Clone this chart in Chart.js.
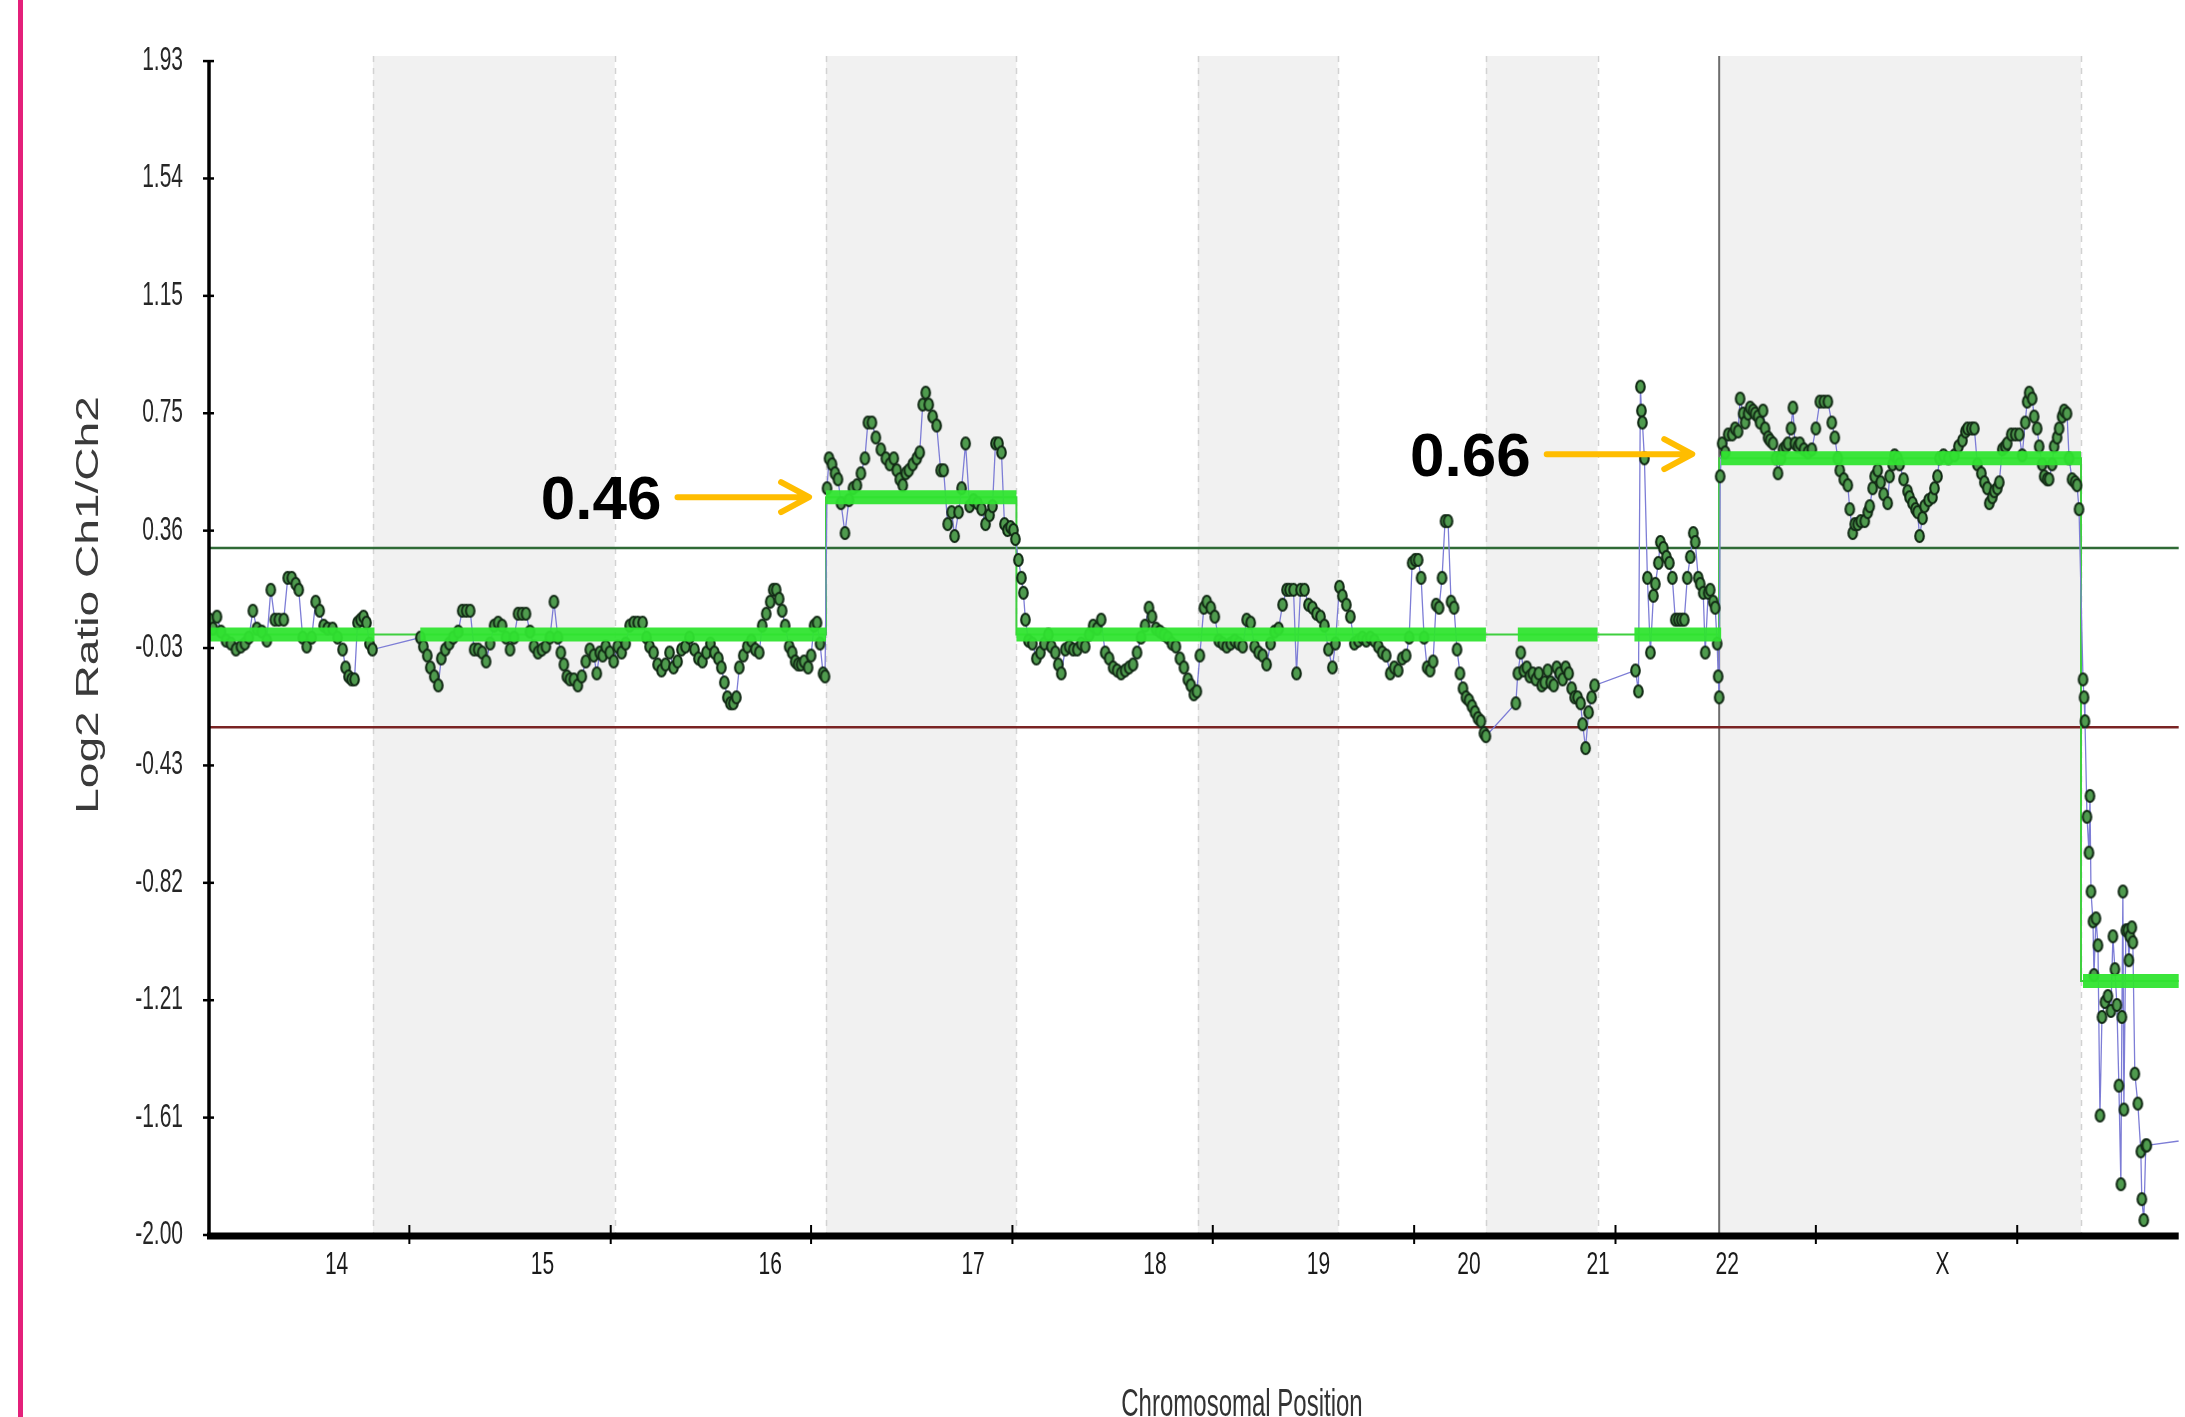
<!DOCTYPE html>
<html>
<head>
<meta charset="utf-8">
<script src="https://cdn.jsdelivr.net/npm/chart.js@4.4.1/dist/chart.umd.min.js"></script>
<style>
    html, body { margin: 0; padding: 0; background: #fff; }
    #wrap { width: 2185px; height: 1417px; position: relative; }
</style>
</head>
<body>
<div id="wrap"><canvas id="cgh"></canvas></div>
<script>

// probe log2 ratios, [position, log2 ratio], position in plot units from the left axis
const chr14 = [[1,0.06],[4,0.03],[8,0.07],[12,0.02],[17,-0.01],[22,-0.02],[27,-0.04],[32,-0.03],[36,-0.02],[40,0.0],[44,0.09],[48,0.03],[53,0.02],[58,-0.01],[62,0.16],[66,0.06],[70,0.06],[75,0.06],[79,0.2],[83,0.2],[87,0.18],[90,0.16],[94,0.0],[98,-0.03],[103,0.0],[107,0.12],[111,0.09],[115,0.04],[119,0.03],[124,0.03],[129,0.0],[134,-0.04],[137,-0.1],[140,-0.13],[143,-0.14],[146,-0.14],[149,0.05],[152,0.06],[155,0.07],[158,0.05],[161,-0.02],[164,-0.04]]
const chr15 = [[212,0.0],[215,-0.03],[219,-0.06],[222,-0.1],[226,-0.13],[230,-0.16],[233,-0.07],[237,-0.04],[241,-0.02],[245,0.0],[250,0.02],[254,0.09],[258,0.09],[262,0.09],[266,-0.04],[270,-0.04],[274,-0.05],[278,-0.08],[282,-0.02],[286,0.04],[290,0.05],[294,0.04],[298,0.0],[302,-0.04],[306,0.0],[310,0.08],[314,0.08],[318,0.08],[322,0.02],[326,-0.03],[330,-0.05],[334,-0.04],[338,-0.03],[342,0.0],[346,0.12],[350,0.0],[353,-0.05],[356,-0.09],[359,-0.13],[362,-0.14],[366,-0.14],[370,-0.16],[374,-0.13],[378,-0.08],[382,-0.04],[386,-0.06],[389,-0.12],[392,-0.05],[395,-0.06],[398,-0.03],[402,-0.05],[406,-0.08]]
const chr16 = [[410,-0.03],[414,-0.05],[418,-0.02],[422,0.04],[426,0.05],[430,0.05],[435,0.05],[439,0.0],[442,-0.03],[446,-0.05],[450,-0.09],[454,-0.11],[458,-0.09],[462,-0.05],[466,-0.1],[470,-0.08],[474,-0.04],[478,-0.03],[482,0.0],[487,-0.04],[491,-0.07],[495,-0.08],[499,-0.05],[503,-0.02],[507,-0.05],[511,-0.07],[514,-0.1],[517,-0.15],[520,-0.2],[523,-0.22],[526,-0.22],[529,-0.2],[532,-0.1],[536,-0.06],[540,-0.03],[544,-0.01],[548,-0.04],[552,-0.05],[555,0.04],[559,0.08],[563,0.12],[566,0.16],[569,0.16],[572,0.13],[575,0.09],[578,0.04],[582,-0.03],[585,-0.05],[588,-0.08],[591,-0.09],[594,-0.09],[597,-0.08],[601,-0.1],[604,-0.06],[607,0.04],[610,0.05],[613,-0.02],[616,-0.12],[618,-0.13]]
const chr17 = [[620,0.5],[622,0.6],[625,0.58],[628,0.55],[631,0.53],[634,0.45],[638,0.35],[642,0.46],[646,0.5],[650,0.51],[654,0.55],[658,0.6],[661,0.72],[665,0.72],[669,0.67],[674,0.63],[679,0.6],[683,0.58],[687,0.6],[690,0.56],[693,0.53],[696,0.51],[699,0.55],[702,0.56],[706,0.58],[710,0.6],[713,0.62],[716,0.78],[719,0.82],[722,0.78],[726,0.74],[730,0.71],[734,0.56],[737,0.56],[741,0.38],[745,0.42],[748,0.34],[752,0.42],[755,0.5],[759,0.65],[763,0.44],[767,0.46],[771,0.45],[775,0.43],[779,0.38],[783,0.41],[786,0.44],[789,0.65],[792,0.65],[795,0.62],[798,0.38],[801,0.36],[804,0.37],[807,0.36],[809,0.33]]
const chr18 = [[812,0.26],[815,0.2],[817,0.15],[819,0.06],[822,-0.01],[826,-0.02],[830,-0.07],[834,-0.05],[838,-0.02],[842,0.01],[845,-0.03],[849,-0.05],[852,-0.09],[855,-0.12],[859,-0.04],[863,-0.03],[867,-0.04],[871,-0.04],[875,-0.02],[879,-0.03],[883,0.01],[887,0.04],[891,0.03],[895,0.06],[899,-0.05],[903,-0.07],[907,-0.1],[911,-0.11],[915,-0.12],[919,-0.11],[923,-0.1],[927,-0.09],[931,-0.05],[935,0.0],[939,0.04],[943,0.1],[946,0.07],[950,0.03],[954,0.02],[958,0.01],[962,0.0],[966,-0.02],[970,-0.03],[974,-0.07],[978,-0.1],[982,-0.14],[985,-0.16],[988,-0.19],[991,-0.18]]
const chr19 = [[994,-0.06],[998,0.1],[1001,0.12],[1005,0.1],[1009,0.07],[1013,-0.01],[1017,-0.02],[1021,-0.03],[1025,-0.02],[1029,-0.01],[1033,-0.02],[1037,-0.03],[1041,0.06],[1045,0.05],[1049,-0.03],[1053,-0.05],[1057,-0.06],[1061,-0.09],[1065,-0.02],[1069,0.02],[1073,0.03],[1077,0.11],[1081,0.16],[1084,0.16],[1088,0.16],[1091,-0.12],[1095,0.16],[1099,0.16],[1103,0.11],[1107,0.1],[1111,0.08],[1115,0.07],[1119,0.04],[1123,-0.04],[1127,-0.1],[1130,-0.02]]
const chr20 = [[1134,0.17],[1137,0.14],[1141,0.11],[1145,0.07],[1149,-0.02],[1153,-0.01],[1157,0.0],[1161,-0.01],[1165,0.0],[1169,-0.01],[1173,-0.03],[1177,-0.05],[1181,-0.06],[1185,-0.12],[1189,-0.1],[1193,-0.11],[1197,-0.07],[1201,-0.06],[1204,0.0],[1207,0.25],[1210,0.26],[1213,0.26],[1216,0.2],[1219,0.0],[1222,-0.1],[1225,-0.11],[1228,-0.08],[1231,0.11],[1234,0.1],[1237,0.2],[1240,0.39],[1243,0.39],[1246,0.12],[1249,0.1],[1252,-0.04],[1255,-0.12],[1258,-0.17],[1261,-0.2],[1264,-0.21],[1267,-0.23],[1270,-0.25],[1273,-0.27],[1276,-0.28],[1279,-0.32],[1281,-0.33]]
const chr21 = [[1311,-0.22],[1313,-0.12],[1316,-0.05],[1319,-0.11],[1322,-0.1],[1325,-0.13],[1328,-0.12],[1331,-0.14],[1334,-0.12],[1337,-0.16],[1340,-0.15],[1343,-0.11],[1346,-0.15],[1349,-0.16],[1352,-0.1],[1355,-0.12],[1358,-0.14],[1361,-0.1],[1364,-0.12],[1367,-0.17],[1370,-0.2],[1373,-0.2],[1376,-0.22],[1378,-0.29],[1381,-0.37],[1384,-0.25],[1387,-0.2],[1390,-0.16]]
const chr22 = [[1431,-0.11],[1434,-0.18],[1436,0.84],[1437,0.76],[1438,0.72],[1440,0.6],[1443,0.2],[1446,-0.05],[1449,0.14],[1451,0.18],[1454,0.25],[1456,0.32],[1459,0.3],[1462,0.27],[1465,0.25],[1468,0.2],[1471,0.06],[1474,0.06],[1477,0.06],[1480,0.06],[1483,0.2],[1486,0.27],[1489,0.35],[1491,0.32],[1494,0.2],[1496,0.18],[1499,0.15],[1501,-0.05],[1504,0.15],[1506,0.16],[1509,0.12],[1511,0.1],[1513,-0.02],[1514,-0.13],[1515,-0.2]]
const chrX = [[1516,0.54],[1518,0.65],[1521,0.62],[1524,0.68],[1528,0.68],[1531,0.7],[1534,0.69],[1536,0.8],[1539,0.75],[1541,0.72],[1544,0.75],[1546,0.77],[1549,0.76],[1551,0.75],[1554,0.74],[1556,0.72],[1559,0.76],[1561,0.7],[1564,0.67],[1566,0.66],[1569,0.65],[1572,0.6],[1574,0.55],[1577,0.6],[1579,0.63],[1582,0.64],[1584,0.65],[1587,0.7],[1589,0.77],[1591,0.65],[1594,0.64],[1596,0.65],[1600,0.63],[1604,0.62],[1608,0.63],[1612,0.7],[1616,0.79],[1620,0.79],[1624,0.79],[1628,0.72],[1631,0.67],[1634,0.6],[1636,0.56],[1640,0.53],[1644,0.51],[1646,0.43],[1649,0.35],[1651,0.38],[1654,0.38],[1657,0.39],[1661,0.39],[1664,0.42],[1666,0.44],[1669,0.5],[1671,0.54],[1674,0.56],[1677,0.52],[1680,0.48],[1684,0.45],[1686,0.54],[1689,0.58],[1691,0.61],[1694,0.6],[1696,0.58],[1700,0.53],[1704,0.49],[1706,0.47],[1709,0.45],[1712,0.43],[1714,0.42],[1716,0.34],[1719,0.4],[1721,0.44],[1725,0.46],[1729,0.47],[1731,0.5],[1734,0.54],[1736,0.6],[1740,0.61],[1745,0.6],[1751,0.61],[1755,0.64],[1759,0.66],[1762,0.69],[1764,0.7],[1768,0.7],[1771,0.7],[1774,0.58],[1778,0.55],[1781,0.52],[1784,0.5],[1786,0.45],[1789,0.47],[1791,0.49],[1794,0.5],[1796,0.52],[1799,0.63],[1802,0.64],[1804,0.65],[1808,0.68],[1812,0.68],[1816,0.68],[1819,0.61],[1822,0.72],[1824,0.79],[1826,0.82],[1829,0.8],[1831,0.74],[1834,0.7],[1836,0.64],[1839,0.58],[1841,0.54],[1844,0.53],[1846,0.53],[1849,0.58],[1851,0.64],[1854,0.67],[1856,0.7],[1859,0.74],[1861,0.76],[1864,0.75],[1866,0.6],[1869,0.53],[1872,0.52],[1874,0.51],[1876,0.43]]
const chrY = [[1880,-0.14],[1881,-0.2],[1882,-0.28],[1884,-0.6],[1886,-0.72],[1887,-0.53],[1888,-0.85],[1890,-0.95],[1891,-1.13],[1893,-0.94],[1895,-1.03],[1897,-1.6],[1899,-1.27],[1902,-1.22],[1905,-1.2],[1908,-1.25],[1910,-1.0],[1912,-1.11],[1914,-1.23],[1916,-1.5],[1918,-1.83],[1919,-1.27],[1920,-0.85],[1921,-1.58],[1923,-0.98],[1925,-0.98],[1926,-1.08],[1927,-1.0],[1929,-0.97],[1930,-1.02],[1932,-1.46],[1935,-1.56],[1938,-1.72],[1939,-1.88],[1941,-1.95],[1943,-1.7],[1944,-1.7],[2010,-1.67]]

// segmentation calls
const segStart = [0, 212, 619, 810, 1313, 1430, 1517, 1880]
const segEnd = [166, 619, 810, 1281, 1393, 1517, 1878, 2010]
const segValue = [0.01, 0.01, 0.47, 0.01, 0.01, 0.01, 0.60, -1.15]

// thin step line joining the segments
const stepPos = [0, 619, 619, 810, 810, 1515, 1515, 1878, 1878, 2010]
const stepValue = [0.01, 0.01, 0.47, 0.47, 0.01, 0.01, 0.60, 0.60, -1.15, -1.15]

const gainThreshold = 0.3
const lossThreshold = -0.3

// chromosomes
const chrNames = ['14', '15', '16', '17', '18', '19', '20', '21', '22', 'X', 'Y']
const chrStart = [0, 164.5, 407, 619, 810, 992, 1133, 1281, 1393, 1515, 1878]
const chrEnd = [164.5, 407, 619, 810, 992, 1133, 1281, 1393, 1515, 1878, 2010]
const chrLabelPos = [128, 334.5, 563, 766.5, 949, 1113, 1264, 1393.5, 1523, 1739]
const xTickMarks = [201, 403, 604, 806, 1007, 1209, 1411, 1612, 1814]

const yTickValues = [1.93, 1.537, 1.144, 0.751, 0.358, -0.035, -0.428, -0.821, -1.214, -1.607, -2.0]
const yTickLabels = ['1.93', '1.54', '1.15', '0.75', '0.36', '-0.03', '-0.43', '-0.82', '-1.21', '-1.61', '-2.00']

const callouts = [
    { text: '0.46', from: 470, to: 602, value: 0.47 },
    { text: '0.66', from: 1342, to: 1488, value: 0.614 }
]


const allProbes = [].concat(chr14, chr15, chr16, chr17, chr18, chr19, chr20, chr21, chr22, chrX, chrY)
    .map(p => ({ x: p[0], y: p[1] }))

// probe marker: small oval, dark rim, green fill
const dot = document.createElement('canvas')
dot.width = 13
dot.height = 16
const dc = dot.getContext('2d')
dc.beginPath()
dc.ellipse(6.5, 8, 4.3, 6, 0, 0, Math.PI * 2)
dc.fillStyle = '#4f9b4e'
dc.fill()
dc.lineWidth = 2.1
dc.strokeStyle = '#122a15'
dc.stroke()


function drawText(ctx, text, x, y, opts) {
    ctx.save()
    ctx.translate(x, y)
    if (opts.rotate) ctx.rotate(opts.rotate)
    ctx.scale(opts.sx || 1, opts.sy || 1)
    ctx.font = opts.font
    ctx.fillStyle = opts.color || '#222'
    ctx.textAlign = opts.align || 'center'
    ctx.textBaseline = opts.baseline || 'middle'
    ctx.fillText(text, 0, 0)
    ctx.restore()
}


const backdrop = {
    id: 'backdrop',
    beforeDatasetsDraw(chart) {
        const { ctx, chartArea: a, scales: { x } } = chart
        ctx.save()
        ctx.fillStyle = '#fff'
        ctx.fillRect(0, 0, chart.width, chart.height)

        chrStart.forEach((s, i) => {
            if (i % 2 === 1) {
                const l = x.getPixelForValue(s)
                const r = Math.min(x.getPixelForValue(chrEnd[i]), a.right)
                ctx.fillStyle = '#f1f1f1'
                ctx.fillRect(l, a.top, r - l, a.bottom - a.top)
            }
        })

        ctx.setLineDash([6, 6])
        ctx.lineWidth = 1.5
        ctx.strokeStyle = '#d2d2d2'
        chrStart.slice(1).forEach(s => {
            if (s === 1515) return
            const px = Math.round(x.getPixelForValue(s)) + 0.5
            ctx.beginPath()
            ctx.moveTo(px, a.top)
            ctx.lineTo(px, a.bottom)
            ctx.stroke()
        })
        ctx.setLineDash([])

        // cursor line at the 22 / X border
        const cx = x.getPixelForValue(1515)
        ctx.strokeStyle = '#6e6e6e'
        ctx.lineWidth = 2
        ctx.beginPath()
        ctx.moveTo(cx, a.top)
        ctx.lineTo(cx, a.bottom)
        ctx.stroke()
        ctx.restore()
    }
}


const frame = {
    id: 'frame',
    afterDraw(chart) {
        const { ctx, chartArea: a, scales: { x, y } } = chart
        ctx.save()

        // axes
        ctx.strokeStyle = '#000'
        ctx.lineWidth = 3.5
        ctx.beginPath()
        ctx.moveTo(a.left, y.getPixelForValue(1.93))
        ctx.lineTo(a.left, a.bottom)
        ctx.stroke()

        ctx.lineWidth = 7
        ctx.beginPath()
        ctx.moveTo(a.left - 2, a.bottom + 1)
        ctx.lineTo(a.right, a.bottom + 1)
        ctx.stroke()

        ctx.lineWidth = 2.5
        yTickValues.forEach((v, i) => {
            const py = y.getPixelForValue(v)
            ctx.beginPath()
            ctx.moveTo(a.left - 6, py)
            ctx.lineTo(a.left + 5, py)
            ctx.stroke()
            drawText(ctx, yTickLabels[i], a.left - 26, py, {
                font: '21px "Liberation Sans", Arial, sans-serif', sy: 1.55, align: 'right', color: '#262626'
            })
        })

        ctx.lineWidth = 2
        xTickMarks.forEach(v => {
            const px = x.getPixelForValue(v)
            ctx.beginPath()
            ctx.moveTo(px, a.bottom - 10)
            ctx.lineTo(px, a.bottom + 9)
            ctx.stroke()
        })

        chrLabelPos.forEach((v, i) => {
            drawText(ctx, chrNames[i], x.getPixelForValue(v), a.bottom + 30, {
                font: '21px "Liberation Sans", Arial, sans-serif', sy: 1.5, color: '#1a1a1a'
            })
        })

        // axis titles
        drawText(ctx, 'Log2 Ratio Ch1/Ch2', 89, 605, {
            font: '32px "Liberation Sans", Arial, sans-serif', rotate: -Math.PI / 2, sx: 1.44, color: '#3a3a3a'
        })
        drawText(ctx, 'Chromosomal Position', a.left + 1033, 1416, {
            font: '24px "Liberation Sans", Arial, sans-serif', sy: 1.65, baseline: 'alphabetic', color: '#333'
        })

        // call-outs
        callouts.forEach(c => {
            const x0 = x.getPixelForValue(c.from)
            const x1 = x.getPixelForValue(c.to)
            const py = y.getPixelForValue(c.value)
            ctx.strokeStyle = '#ffbd00'
            ctx.lineWidth = 6
            ctx.lineCap = 'round'
            ctx.lineJoin = 'round'
            ctx.beginPath()
            ctx.moveTo(x0, py)
            ctx.lineTo(x1 - 3, py)
            ctx.moveTo(x1 - 28, py - 15)
            ctx.lineTo(x1, py)
            ctx.lineTo(x1 - 28, py + 15)
            ctx.stroke()
            drawText(ctx, c.text, x0 - 16, py + 22, {
                font: 'bold 62px "Liberation Sans", Arial, sans-serif', align: 'right', baseline: 'alphabetic', color: '#000'
            })
        })

        // slide border
        ctx.fillStyle = '#e4207a'
        ctx.fillRect(18, 0, 5, chart.height)
        ctx.restore()
    }
}


const datasets = [
    {
        data: segStart.map((s, i) => [{ x: s, y: segValue[i] }, { x: segEnd[i], y: segValue[i] }]).flat()
            .map((p, i) => i % 2 === 1 ? [p, { x: p.x, y: null }] : [p]).flat(),
        showLine: true,
        spanGaps: false,
        borderColor: 'rgba(48, 228, 48, 0.95)',
        borderWidth: 14,
        borderCapStyle: 'butt',
        pointRadius: 0,
        order: 1
    },
    {
        data: allProbes,
        showLine: true,
        borderColor: '#7d7dd6',
        borderWidth: 1.3,
        pointStyle: dot,
        pointRadius: 5,
        order: 2
    },
    {
        data: stepPos.map((p, i) => ({ x: p, y: stepValue[i] })),
        showLine: true,
        borderColor: '#3fcf3f',
        borderWidth: 2,
        pointRadius: 0,
        order: 3
    },
    {
        data: [{ x: 0, y: gainThreshold }, { x: 2010, y: gainThreshold }],
        showLine: true,
        borderColor: '#2f6a36',
        borderWidth: 2.5,
        pointRadius: 0,
        order: 4
    },
    {
        data: [{ x: 0, y: lossThreshold }, { x: 2010, y: lossThreshold }],
        showLine: true,
        borderColor: '#7a2424',
        borderWidth: 2.5,
        pointRadius: 0,
        order: 4
    }
]


new Chart('cgh', {
    type: 'scatter',
    data: { datasets },
    options: {
        responsive: true,
        maintainAspectRatio: false,
        devicePixelRatio: 1,
        animation: false,
        events: [],
        layout: {
            padding: { left: 209, right: 0, top: 56, bottom: 182 }
        },
        plugins: {
            legend: { display: false },
            tooltip: { enabled: false }
        },
        scales: {
            x: { type: 'linear', min: 0, max: 1976, display: false },
            y: { type: 'linear', min: -2.0, max: 1.947, display: false }
        }
    },
    plugins: [backdrop, frame]
})
</script>
</body>
</html>
